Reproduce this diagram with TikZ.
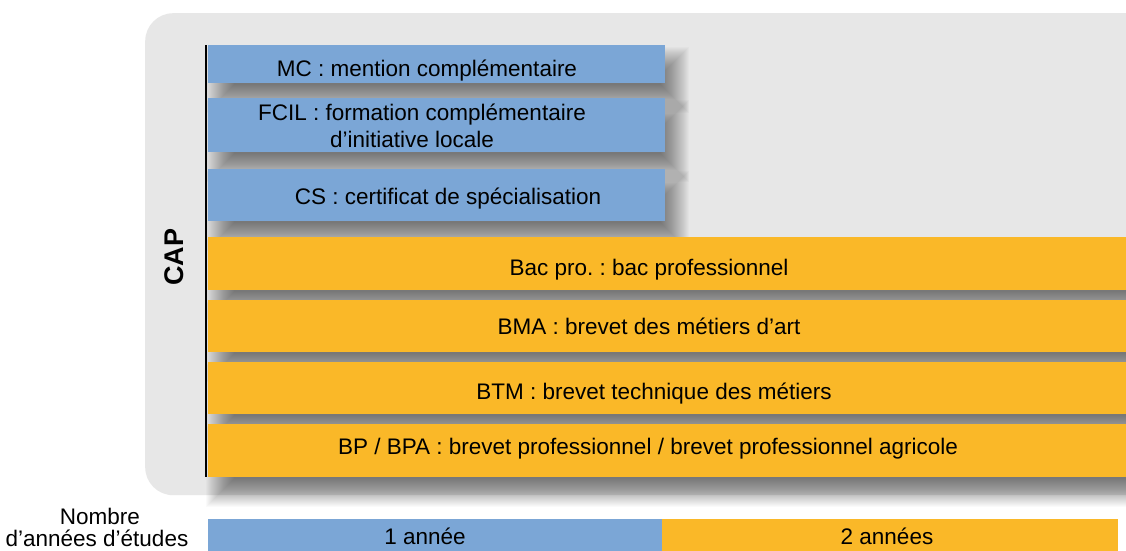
\documentclass[tikz,border=0pt]{standalone}
\usepackage{fontspec}
\setmainfont{Liberation Sans}
\usetikzlibrary{calc}
\definecolor{barblue}{RGB}{123,166,214}
\definecolor{barorange}{RGB}{250,184,40}
\definecolor{panelgray}{RGB}{231,231,231}
\pgfdeclarelayer{bglayer}
\pgfdeclarelayer{shadowlayer}
\pgfsetlayers{bglayer,shadowlayer,main}
\begin{document}
\frenchspacing
\begin{tikzpicture}[x=1pt,y=-1pt,
  bar/.style={draw=none, inner sep=0pt, outer sep=0pt, anchor=north west},
  bluebar/.style={bar, fill=barblue},
  orangebar/.style={bar, fill=barorange},
  softshade/.style={fill=black, fill opacity=0.018, draw=none},
  lbl/.style={font=\fontsize{22.5}{27}\selectfont, text=black, inner sep=0pt, anchor=base},
]
\useasboundingbox (0,0) rectangle (1126,550);
\clip (0,0) rectangle (1126,550);

% bars
\node[bluebar, minimum width=457pt, minimum height=38pt] (mc) at (208,45) {};
\node[bluebar, minimum width=457pt, minimum height=54pt] (fcil) at (208,98) {};
\node[bluebar, minimum width=457pt, minimum height=52pt] (cs) at (208,169) {};
\node[orangebar, minimum width=960pt, minimum height=53pt] (bac) at (208,237) {};
\node[orangebar, minimum width=960pt, minimum height=52pt] (bma) at (208,300) {};
\node[orangebar, minimum width=960pt, minimum height=52pt] (btm) at (208,362) {};
\node[orangebar, minimum width=960pt, minimum height=53pt] (bp) at (208,424) {};

% background panel
\begin{pgfonlayer}{bglayer}
\fill[white] (0,0) rectangle (1126,550);
\node[draw=none, fill=panelgray, rounded corners=28pt, anchor=north west,
  minimum width=1040pt, minimum height=482pt, inner sep=0pt]
  (panel) at (145,13) {};
\end{pgfonlayer}

% soft shadows of the bars
\begin{pgfonlayer}{shadowlayer}
\foreach \n in {mc,fcil,cs,bac,bma,btm,bp}{
  \foreach \r in {-14,...,14}{
    \fill[softshade] ($(\n.north west)+(12-\r,16-\r)$) rectangle ($(\n.south east)+(10+\r,16+\r)$);
  }
}
\end{pgfonlayer}

% axis line
\draw[line width=1.8pt] ($(mc.north west)+(-2,0)$) -- ($(bp.south west)+(-2,0)$);

% CAP
\node[font=\fontsize{27}{30}\bfseries\selectfont, rotate=90, inner sep=0pt] (cap) at (174,257) {CAP};

% labels
\node[lbl] (mct) at (427,76) {MC : mention complémentaire};
\node[lbl] (fcilt1) at (422,120) {FCIL : formation complémentaire};
\node[lbl] (fcilt2) at (412,147) {d’initiative locale};
\node[lbl] (cst) at (448,204) {CS : certificat de spécialisation};
\node[lbl] (bact) at (649,275) {Bac pro. : bac professionnel};
\node[lbl] (bmat) at (649,334) {BMA : brevet des métiers d’art};
\node[lbl] (btmt) at (654,399) {BTM : brevet technique des métiers};
\node[lbl] (bpt) at (648,454) {BP / BPA : brevet professionnel / brevet professionnel agricole};

% bottom scale
\node[bar, fill=barblue, minimum width=455pt, minimum height=40pt] (y1) at (208,519) {};
\node[bar, fill=barorange, minimum width=456pt, minimum height=40pt] (y2) at (662,519) {};
\node[lbl] (y1t) at (425,544) {1 année};
\node[lbl] (y2t) at (887,544) {2 années};
\node[lbl] (nb1) at (100,524) {Nombre};
\node[lbl] (nb2) at (97,546) {d’années d’études};
\end{tikzpicture}
\end{document}
